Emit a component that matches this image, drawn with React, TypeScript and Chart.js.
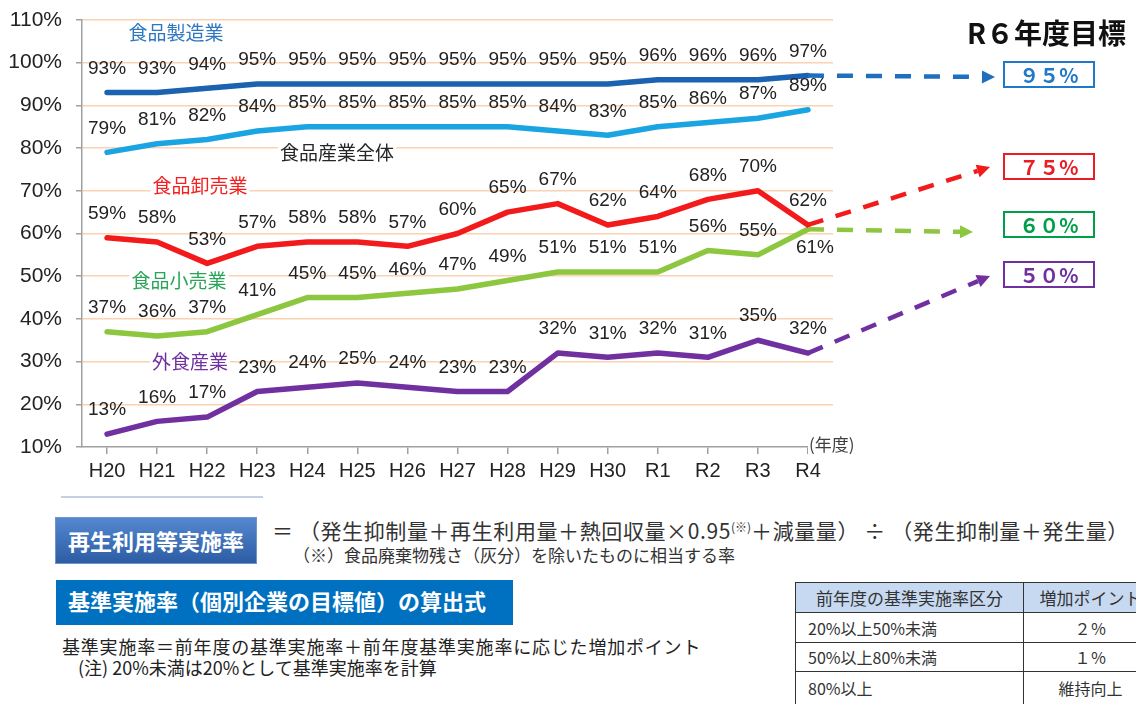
import React, { useEffect, useRef } from 'react';
import { Chart, registerables } from 'chart.js';

Chart.register(...registerables);

// ---------- data ----------
const CATEGORIES = ['H20', 'H21', 'H22', 'H23', 'H24', 'H25', 'H26', 'H27', 'H28', 'H29', 'H30', 'R1', 'R2', 'R3', 'R4'];
const SERIES_NAMES = ['食品製造業', '食品産業全体', '食品卸売業', '食品小売業', '外食産業'];
const MANUFACTURING = [93, 93, 94, 95, 95, 95, 95, 95, 95, 95, 95, 96, 96, 96, 97];
const INDUSTRY_TOTAL = [79, 81, 82, 84, 85, 85, 85, 85, 85, 84, 83, 85, 86, 87, 89];
const WHOLESALE = [59, 58, 53, 57, 58, 58, 57, 60, 65, 67, 62, 64, 68, 70, 62];
const RETAIL = [37, 36, 37, 41, 45, 45, 46, 47, 49, 51, 51, 51, 56, 55, 61];
const FOOD_SERVICE = [13, 16, 17, 23, 24, 25, 24, 23, 23, 32, 31, 32, 31, 35, 32];
const Y_MIN = 10;
const Y_MAX = 110;
const Y_STEP = 10;
const AXIS_UNIT = '(年度)';
const TARGET_TITLE = 'R６年度目標';
// target boxes: [label, series index]
const TARGET_LABELS = ['９５%', '７５%', '６０%', '５０%'];
const TARGET_SERIES = [0, 2, 3, 4];

const FORMULA_TITLE = '再生利用等実施率';
const FORMULA_A = '＝ （発生抑制量＋再生利用量＋熱回収量×0.95';
const FORMULA_SUP = '(※)';
const FORMULA_B = '＋減量量） ÷ （発生抑制量＋発生量）';
const FORMULA_NOTE = '（※）食品廃棄物残さ（灰分）を除いたものに相当する率';
const BASE_TITLE = '基準実施率（個別企業の目標値）の算出式';
const BASE_LINE1 = '基準実施率＝前年度の基準実施率＋前年度基準実施率に応じた増加ポイント';
const BASE_LINE2 = '(注) 20%未満は20%として基準実施率を計算';
const TABLE_HEAD = ['前年度の基準実施率区分', '増加ポイント'];
const TABLE_RANGES = ['20%以上50%未満', '50%以上80%未満', '80%以上'];
const TABLE_POINTS = ['２％', '１％', '維持向上'];

// ---------- styles ----------
const LATIN = '"Liberation Sans", Arial, sans-serif';
const CJK = '"Noto Sans CJK JP", "Noto Sans", sans-serif';
const LINE_COLORS = ['#1b62b0', '#1aa5e2', '#f21a1a', '#8dc63f', '#7030a0'];
const NAME_COLORS = ['#2e78c2', '#262626', '#f42020', '#2aa558', '#7030a0'];
const NAME_POS = [[176, 32], [337, 152], [200, 185], [179, 280], [190, 361]];
const ARROW_COLORS = ['#1e6fc0', '#f21a1a', '#8dc63f', '#7030a0'];
const ARROW_TIPS = [[995, 77], [990, 167], [973, 232], [990, 276]];
const BOX_COLORS = ['#1f78c8', '#ea1c24', '#00a04b', '#7030a0'];
const BOX_TOPS = [61, 153, 211, 261];

function drawArrow(ctx: CanvasRenderingContext2D, x0: number, y0: number, x1: number, y1: number, color: string) {
  const ang = Math.atan2(y1 - y0, x1 - x0);
  const head = 13;
  const hw = 13;
  const c = Math.cos(ang);
  const s = Math.sin(ang);
  const bx = x1 - head * c;
  const by = y1 - head * s;
  ctx.save();
  ctx.strokeStyle = color;
  ctx.lineWidth = 4.5;
  ctx.setLineDash([16, 13]);
  ctx.lineCap = 'butt';
  ctx.beginPath();
  ctx.moveTo(x0, y0);
  ctx.lineTo(bx, by);
  ctx.stroke();
  ctx.setLineDash([]);
  ctx.fillStyle = color;
  ctx.beginPath();
  ctx.moveTo(x1, y1);
  ctx.lineTo(bx + (hw / 2) * s, by - (hw / 2) * c);
  ctx.lineTo(bx - (hw / 2) * s, by + (hw / 2) * c);
  ctx.closePath();
  ctx.fill();
  ctx.restore();
}

const overlayPlugin = {
  id: 'overlay',
  beforeDatasetsDraw(chart: any) {
    const ctx: CanvasRenderingContext2D = chart.ctx;
    ctx.save();
    ctx.font = `19px ${CJK}`;
    ctx.textAlign = 'center';
    ctx.textBaseline = 'middle';
    SERIES_NAMES.forEach((name, i) => {
      const [x, y] = NAME_POS[i];
      const w = ctx.measureText(name).width;
      ctx.fillStyle = '#ffffff';
      ctx.fillRect(x - w / 2 - 2, y - 11, w + 4, 22);
      ctx.fillStyle = NAME_COLORS[i];
      ctx.fillText(name, x, y + 1);
    });
    ctx.restore();
  },
  afterDatasetsDraw(chart: any) {
    const ctx: CanvasRenderingContext2D = chart.ctx;
    // arrows
    TARGET_SERIES.forEach((si, k) => {
      const meta = chart.getDatasetMeta(si);
      const last = meta.data[meta.data.length - 1];
      drawArrow(ctx, last.x, last.y, ARROW_TIPS[k][0], ARROW_TIPS[k][1], ARROW_COLORS[k]);
    });
    // data labels
    ctx.save();
    ctx.font = `19px ${LATIN}`;
    ctx.fillStyle = '#222222';
    ctx.textAlign = 'center';
    ctx.textBaseline = 'middle';
    chart.data.datasets.forEach((ds: any, i: number) => {
      const meta = chart.getDatasetMeta(i);
      ds.data.forEach((v: number, j: number) => {
        const el = meta.data[j];
        const below = ds.labelBelow && ds.labelBelow.includes(j);
        const dx = below ? 7 : 0;
        const dy = below ? 19 : -24;
        ctx.fillText(`${v}%`, el.x + dx, el.y + dy);
      });
    });
    ctx.restore();
  },
  afterDraw(chart: any) {
    const ctx: CanvasRenderingContext2D = chart.ctx;
    const area = chart.chartArea;
    ctx.save();
    ctx.font = `17px ${CJK}`;
    const w = ctx.measureText(AXIS_UNIT).width;
    const x = area.right - 25;
    ctx.fillStyle = '#ffffff';
    ctx.fillRect(x, area.bottom - 9, w + 4, 16);
    ctx.fillStyle = '#404040';
    ctx.textAlign = 'left';
    ctx.textBaseline = 'middle';
    ctx.fillText(AXIS_UNIT, x + 1, area.bottom - 2);
    ctx.restore();
  },
};

export default function App() {
  const ref = useRef<HTMLCanvasElement>(null);

  useEffect(() => {
    if (!ref.current) return;
    const series = [MANUFACTURING, INDUSTRY_TOTAL, WHOLESALE, RETAIL, FOOD_SERVICE];
    const chart = new Chart(ref.current, {
      type: 'line',
      data: {
        labels: CATEGORIES,
        datasets: series.map((d, i) => ({
          label: SERIES_NAMES[i],
          data: d,
          borderColor: LINE_COLORS[i],
          backgroundColor: LINE_COLORS[i],
          borderWidth: 5.5,
          pointRadius: 0,
          pointHoverRadius: 0,
          tension: 0,
          fill: false,
          borderCapStyle: 'round',
          borderJoinStyle: 'round',
          labelBelow: i === 3 ? [d.length - 1] : [],
        })) as any,
      },
      options: {
        responsive: false,
        animation: false,
        devicePixelRatio: 1,
        layout: { padding: { left: 0, top: 20, right: 303, bottom: 0 } },
        plugins: { legend: { display: false }, tooltip: { enabled: false }, title: { display: false } },
        scales: {
          x: {
            offset: true,
            ticks: { font: { size: 20, family: LATIN }, color: '#222222', padding: 5, maxRotation: 0, autoSkip: false },
            grid: { drawOnChartArea: false, tickLength: 7, color: '#a0a0a0', lineWidth: 1.5 },
            border: { color: '#a0a0a0', width: 1.5 },
            afterFit: (s: any) => { s.height = 43; },
          },
          y: {
            min: Y_MIN,
            max: Y_MAX,
            ticks: {
              stepSize: Y_STEP,
              callback: (v: any) => `${v}%`,
              font: { size: 21, family: LATIN },
              color: '#222222',
              padding: 14,
            },
            grid: {
              color: (c: any) => (c.tick && c.tick.value === Y_MIN ? 'rgba(0,0,0,0)' : '#fbd2b2'),
              lineWidth: 1.5,
              tickLength: 6,
              tickColor: '#a0a0a0',
            },
            border: { color: '#a0a0a0', width: 1.5 },
            afterFit: (s: any) => { s.width = 82; s.paddingTop = 10; s.paddingBottom = 10; },
          },
        },
      } as any,
      plugins: [overlayPlugin],
    });
    return () => chart.destroy();
  }, []);

  const abs = (o: React.CSSProperties): React.CSSProperties => ({ position: 'absolute', whiteSpace: 'nowrap', ...o });
  const cell: React.CSSProperties = { border: '1.5px solid #333', padding: 0, whiteSpace: 'nowrap', overflow: 'hidden', boxSizing: 'border-box' };

  return (
    <div style={{ position: 'absolute', left: 0, top: 0, width: 1136, height: 704, overflow: 'hidden', background: '#ffffff', fontFamily: CJK }}>
      <canvas ref={ref} width={1136} height={490} style={{ position: 'absolute', left: 0, top: 0, width: 1136, height: 490 }} />

      {/* target title and boxes */}
      <div style={abs({ left: 967, top: 17, fontSize: 28, lineHeight: '30px', fontWeight: 700, color: '#111' })}>{TARGET_TITLE}</div>
      {TARGET_LABELS.map((t, k) => (
        <div key={t} style={abs({
          left: 1003, top: BOX_TOPS[k], width: 92, height: 27, boxSizing: 'border-box',
          border: `2px solid ${BOX_COLORS[k]}`, background: '#fff', color: BOX_COLORS[k],
          fontSize: 20, fontWeight: 700, lineHeight: '23px', textAlign: 'center',
        })}>{t}</div>
      ))}

      {/* bottom section */}
      <div style={abs({ left: 61, top: 496, width: 202, height: 2, background: '#c3d1e2' })} />
      <div style={abs({
        left: 55, top: 517, width: 202, height: 47, boxSizing: 'border-box',
        background: 'linear-gradient(to bottom, #5488d0, #2c5ca4)', border: '1px solid #6f95c9',
        color: '#fff', fontSize: 22, fontWeight: 700, lineHeight: '44px', textAlign: 'center',
      })}>{FORMULA_TITLE}</div>
      <div style={abs({ left: 272, top: 516, fontSize: 21, lineHeight: '28px', color: '#333', letterSpacing: '0.6px' })}>
        {FORMULA_A}
        <span style={{ fontSize: 12, position: 'relative', top: -7, letterSpacing: 0 }}>{FORMULA_SUP}</span>
        {FORMULA_B}
      </div>
      <div style={abs({ left: 293, top: 544, fontSize: 17, lineHeight: '22px', color: '#333' })}>{FORMULA_NOTE}</div>

      <div style={abs({
        left: 56, top: 580, width: 457, height: 45, boxSizing: 'border-box', background: '#0070c0',
        color: '#fff', fontSize: 22, fontWeight: 700, lineHeight: '41px', paddingLeft: 12,
      })}>{BASE_TITLE}</div>
      <div style={abs({ left: 62, top: 635, fontSize: 18, lineHeight: '23px', color: '#222', letterSpacing: '0.8px' })}>{BASE_LINE1}</div>
      <div style={abs({ left: 78, top: 656, fontSize: 18, lineHeight: '23px', color: '#222' })}>{BASE_LINE2}</div>

      <table style={{ position: 'absolute', left: 795, top: 582, width: 362, borderCollapse: 'collapse', tableLayout: 'fixed', fontFamily: CJK, color: '#333' }}>
        <colgroup>
          <col style={{ width: 228 }} />
          <col style={{ width: 134 }} />
        </colgroup>
        <tbody>
          <tr style={{ height: 30, background: '#c6d9f0' }}>
            {TABLE_HEAD.map((h) => (
              <td key={h} style={{ ...cell, textAlign: 'center', fontSize: 17 }}>{h}</td>
            ))}
          </tr>
          {TABLE_RANGES.map((r, i) => (
            <tr key={r} style={{ height: i === 2 ? 33 : i === 1 ? 29 : 30 }}>
              <td style={{ ...cell, paddingLeft: 12, fontSize: 16 }}>{r}</td>
              <td style={{ ...cell, textAlign: 'center', fontSize: 16 }}>{TABLE_POINTS[i]}</td>
            </tr>
          ))}
        </tbody>
      </table>
    </div>
  );
}
